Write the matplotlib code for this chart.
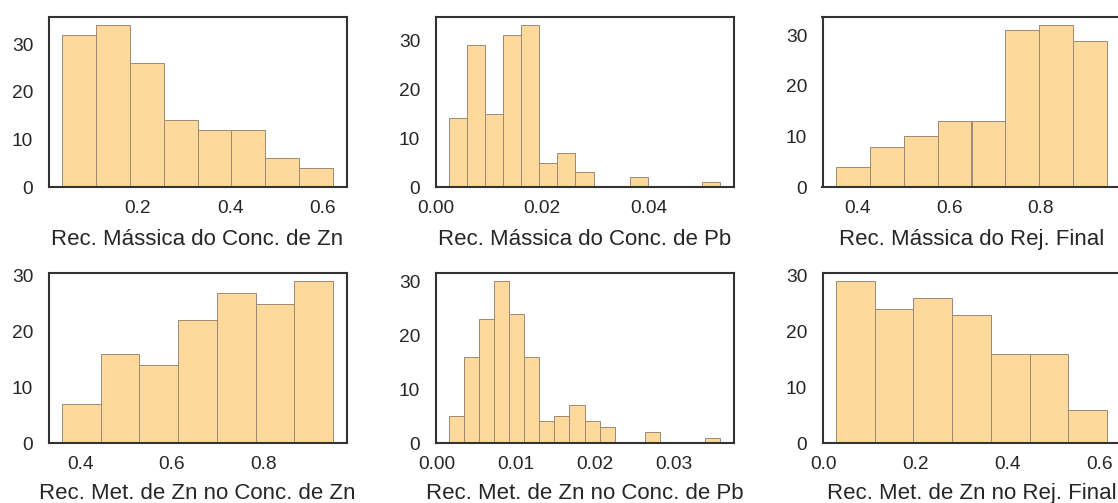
import numpy as np
import matplotlib
matplotlib.use("Agg")
import matplotlib.pyplot as plt

plt.rcParams['font.family'] = ['Liberation Sans', 'DejaVu Sans']

# Data: histogram counts and bin ranges
labels = [
    "Rec. Mássica do Conc. de Zn",
    "Rec. Mássica do Conc. de Pb",
    "Rec. Mássica do Rej. Final",
    "Rec. Met. de Zn no Conc. de Zn",
    "Rec. Met. de Zn no Conc. de Pb",
    "Rec. Met. de Zn no Rej. Final",
]

counts_massica_zn = [32, 34, 26, 14, 12, 12, 6, 4]
range_massica_zn = (0.036, 0.623)

counts_massica_pb = [14, 29, 15, 31, 33, 5, 7, 3, 0, 0, 2, 0, 0, 0, 1]
range_massica_pb = (0.0025, 0.0533)

counts_massica_rej = [4, 8, 10, 13, 13, 31, 32, 29]
range_massica_rej = (0.352, 0.946)

counts_met_zn = [7, 16, 14, 22, 27, 25, 29]
range_met_zn = (0.360, 0.951)

counts_met_pb = [5, 16, 23, 30, 24, 16, 4, 5, 7, 4, 3, 0, 0, 2, 0, 0, 0, 1]
range_met_pb = (0.00158, 0.0359)

counts_met_rej = [29, 24, 26, 23, 16, 16, 6]
range_met_rej = (0.0274, 0.616)

xticks_list = [
    [0.2, 0.4, 0.6],
    [0.00, 0.02, 0.04],
    [0.4, 0.6, 0.8],
    [0.4, 0.6, 0.8],
    [0.00, 0.01, 0.02, 0.03],
    [0.0, 0.2, 0.4, 0.6],
]
xtick_fmt = ["{:.1f}", "{:.2f}", "{:.1f}", "{:.1f}", "{:.2f}", "{:.1f}"]
yticks = [0, 10, 20, 30]

series = [
    (counts_massica_zn, range_massica_zn),
    (counts_massica_pb, range_massica_pb),
    (counts_massica_rej, range_massica_rej),
    (counts_met_zn, range_met_zn),
    (counts_met_pb, range_met_pb),
    (counts_met_rej, range_met_rej),
]

W, H = 1118, 503
fig = plt.figure(figsize=(W / 100, H / 100), dpi=100)

col_left = [48.5, 435.5, 822.5]
row_top = [17.3, 273.3]
ax_w, ax_h = 298, 169.7

face = "#FDDA9B"
edge = "#9a8a74"
text_col = "#262626"

for i, (counts, (lo, hi)) in enumerate(series):
    r, c = divmod(i, 3)
    left = col_left[c] / W
    bottom = 1 - (row_top[r] + ax_h) / H
    ax = fig.add_axes([left, bottom, ax_w / W, ax_h / H])
    n = len(counts)
    edges = np.linspace(lo, hi, n + 1)
    widths = np.diff(edges)
    ax.bar(edges[:-1], counts, width=widths, align="edge",
           color=face, edgecolor=edge, linewidth=0.7)
    ax.margins(x=0.05, y=0.05)
    ax.set_ylim(0, max(counts) * 1.05)
    ax.set_yticks(yticks)
    ax.set_xticks(xticks_list[i])
    ax.set_xticklabels([xtick_fmt[i].format(v) for v in xticks_list[i]])
    ax.tick_params(axis="both", length=0, labelsize=13.8, colors=text_col)
    ax.tick_params(axis="x", pad=9.5)
    ax.tick_params(axis="y", pad=11)
    ax.set_xlabel(labels[i], fontsize=16, color=text_col,
                  labelpad=8.5 if r == 0 else 7.0)
    for sp in ax.spines.values():
        sp.set_linewidth(1.5)
        sp.set_color("#333333")

fig.savefig("out.png", dpi=100)
